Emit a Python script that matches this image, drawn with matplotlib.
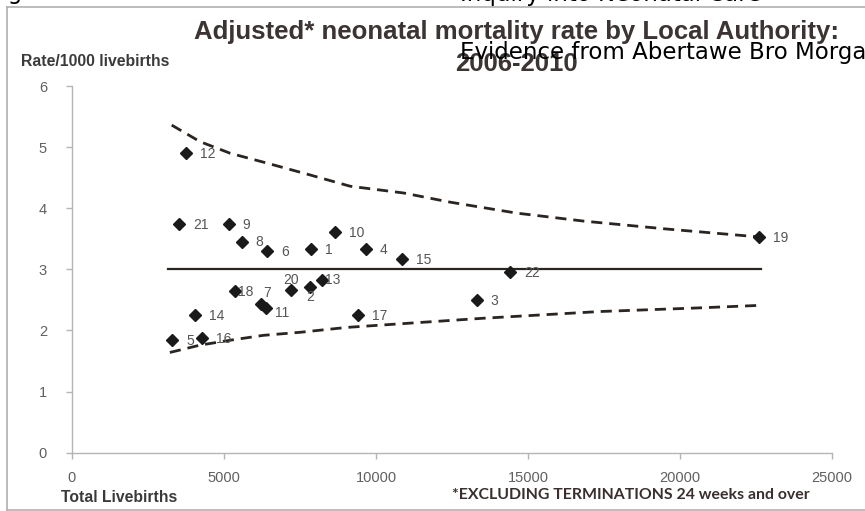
import matplotlib
matplotlib.use("Agg")
import matplotlib.pyplot as plt
from matplotlib.lines import Line2D

# --- data ---
AUTHORITY = ["1", "2", "3", "4", "5", "6", "7", "8", "9", "10", "11",
             "12", "13", "14", "15", "16", "17", "18", "19", "20", "21", "22"]
LIVEBIRTHS = [7862, 7829, 13312, 9671, 3289, 6425, 6228, 5602, 5154, 8663, 6372,
              3740, 8224, 4057, 10845, 4287, 9397, 5372, 22609, 7204, 3530, 14408]
RATE = [3.34, 2.71, 2.50, 3.34, 1.84, 3.30, 2.43, 3.44, 3.74, 3.61, 2.36,
        4.90, 2.82, 2.25, 3.17, 1.88, 2.25, 2.64, 3.53, 2.66, 3.74, 2.95]

MEAN_X = [3170, 22650]
MEAN_Y = [3.0, 3.0]

UPPER_X = [3280, 4210, 5200, 6400, 7720, 9150, 10900, 12430, 14630, 16820, 19560, 22610]
UPPER_Y = [5.36, 5.09, 4.90, 4.74, 4.56, 4.36, 4.25, 4.10, 3.92, 3.79, 3.66, 3.53]
LOWER_X = [3220, 4210, 5200, 6290, 7500, 9040, 11120, 13530, 17370, 20660, 22590]
LOWER_Y = [1.64, 1.76, 1.84, 1.92, 1.97, 2.05, 2.12, 2.20, 2.31, 2.37, 2.41]

X_TICKS = [0, 5000, 10000, 15000, 20000, 25000]
Y_TICKS = [0, 1, 2, 3, 4, 5, 6]

# label offsets in pixels (dx, dy down) from each marker
LABEL_OFFSETS = {
    "7": (2, -11), "20": (-8, -10), "2": (-4, 10), "13": (3, 0),
    "18": (3, 1), "11": (9, 5), "8": (13, 0),
}

W, H = 865, 511
fig = plt.figure(figsize=(W / 100, H / 100), dpi=100)
fig.patch.set_facecolor("white")


def fx(px):
    return px / W


def fy(py):
    return 1 - py / H


ax = fig.add_axes([fx(72), fy(452.7), fx(832) - fx(72), fy(86) - fy(452.7)])
ax.set_xlim(0, 25000)
ax.set_ylim(0, 6)

ink = "#2b2522"
ax.plot(UPPER_X, UPPER_Y, color=ink, lw=2.0, dashes=(4, 2.5))
ax.plot(LOWER_X, LOWER_Y, color=ink, lw=2.0, dashes=(4, 2.5))
ax.plot(MEAN_X, MEAN_Y, color=ink, lw=1.6)
ax.plot(LIVEBIRTHS, RATE, "D", color="#1a1a1a", ms=5.8, ls="none")

for lab, x, y in zip(AUTHORITY, LIVEBIRTHS, RATE):
    dx, dy = LABEL_OFFSETS.get(lab, (14, 1))
    ax.annotate(lab, (x, y), xytext=(dx * 0.72, -dy * 0.72), textcoords="offset points",
                ha="left", va="center", fontsize=10, color="#555555",
                family="Liberation Sans")

for s in ["top", "right"]:
    ax.spines[s].set_visible(False)
for s in ["left", "bottom"]:
    ax.spines[s].set_color("#b5b5b5")
    ax.spines[s].set_linewidth(1.0)
ax.set_xticks(X_TICKS)
ax.set_yticks(Y_TICKS)
ax.set_xticklabels([str(t) for t in X_TICKS])
ax.set_yticklabels([str(t) for t in Y_TICKS])
ax.tick_params(axis="both", colors="#b5b5b5", labelcolor="#606060", labelsize=10.5,
               length=4, width=1)
ax.tick_params(axis="y", pad=14)
ax.tick_params(axis="x", pad=9)
for t in ax.get_xticklabels() + ax.get_yticklabels():
    t.set_family("Liberation Sans")

# outer frame of the scanned figure
frame_col = "#b0b0b0"
fig.add_artist(Line2D([fx(7), fx(7)], [fy(7), fy(510)], color=frame_col, lw=1.2))
fig.add_artist(Line2D([fx(7), 1.0], [fy(7), fy(7)], color=frame_col, lw=1.2))
fig.add_artist(Line2D([fx(7), 1.0], [fy(510), fy(510)], color=frame_col, lw=1.2))

title_col = "#3b3433"
fig.text(fx(516), fy(32), "Adjusted* neonatal mortality rate by Local Authority:",
         ha="center", va="center", fontsize=18.5, fontweight="bold",
         color=title_col, family="Liberation Sans")
fig.text(fx(516), fy(64), "2006-2010", ha="center", va="center", fontsize=18.5,
         fontweight="bold", color=title_col, family="Liberation Sans")

fig.text(fx(21), fy(61), "Rate/1000 livebirths", ha="left", va="center",
         fontsize=11.3, fontweight="bold", color="#3a3a3a", family="Liberation Sans")
fig.text(fx(61), fy(498), "Total Livebirths", ha="left", va="center",
         fontsize=11.3, fontweight="bold", color="#3a3a3a", family="Liberation Sans")
fig.text(fx(452), fy(495), "*EXCLUDING TERMINATIONS 24 weeks and over", ha="left",
         va="center", fontsize=11.4, fontweight="bold", color="#3a2e2e", family="Lato")

# page header text overlapping the scan
fig.text(fx(460), fy(53), "Evidence from Abertawe Bro Morgannwg University Health Board",
         ha="left", va="center", fontsize=16.5, color="black", family="DejaVu Sans")
fig.text(fx(460), fy(1), "Inquiry into Neonatal Care", ha="left", va="baseline",
         fontsize=16.5, color="black", family="DejaVu Sans")
fig.text(fx(-10), fy(-1), "Figure 7", ha="left", va="baseline",
         fontsize=16.5, color="black", family="DejaVu Sans")

fig.savefig("out.png", dpi=100, facecolor="white")
